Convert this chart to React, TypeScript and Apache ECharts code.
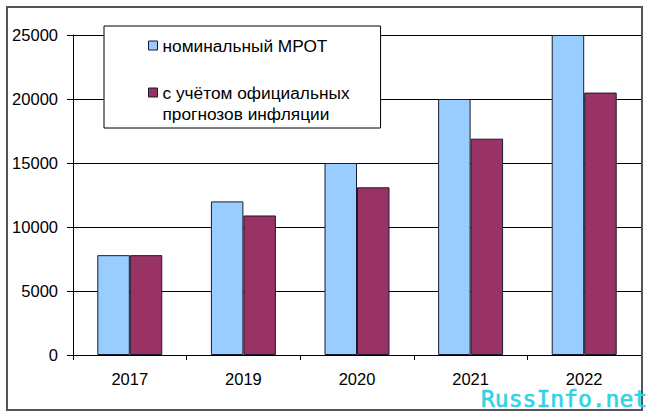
import React, { useEffect, useRef } from "react";
import * as echarts from "echarts";

const categories = ["2017", "2019", "2020", "2021", "2022"];
const nominal = [7800, 12000, 15000, 20000, 25000];
const inflationAdjusted = [7800, 10900, 13100, 16900, 20500];
const seriesNames = ["номинальный МРОТ", "с учётом официальных\nпрогнозов инфляции"];
const yTicks = { min: 0, max: 25000, interval: 5000 };
const watermark = "RussInfo.net";

const FONT = "'Liberation Sans', Arial, sans-serif";

export default function App() {
  const ref = useRef<HTMLDivElement>(null);
  useEffect(() => {
    document.body.style.margin = "0";
    const chart = echarts.init(ref.current!, null, { renderer: "svg" });
    chart.setOption({
      animation: false,
      backgroundColor: "#fff",
      textStyle: { fontFamily: FONT },
      grid: { left: 73, right: 9, top: 35, bottom: 62, containLabel: false },
      legend: {
        orient: "vertical",
        left: 104,
        top: 26,
        backgroundColor: "#fff",
        borderColor: "#000",
        borderWidth: 1,
        borderRadius: 0,
        padding: [9, 31, 4, 44],
        itemGap: 5,
        itemWidth: 9,
        itemHeight: 9,
        icon: "rect",
        selectedMode: false,
        formatter: (name: string) => (name === seriesNames[1] ? "\n" + name : name),
        textStyle: { fontFamily: FONT, fontSize: 17.3, color: "#000", lineHeight: 21 },
        data: [
          { name: seriesNames[0], itemStyle: { borderColor: "#1a1a2e", borderWidth: 1 } },
          { name: seriesNames[1], itemStyle: { borderColor: "#1a1a2e", borderWidth: 1 } },
        ],
      },
      xAxis: {
        type: "category",
        data: categories,
        axisLine: { lineStyle: { color: "#000", width: 1 } },
        axisTick: { show: true, alignWithLabel: false, length: 5, lineStyle: { color: "#000" } },
        axisLabel: { fontSize: 16.5, color: "#000", margin: 15, fontFamily: FONT },
        splitLine: { show: false },
      },
      yAxis: {
        type: "value",
        min: yTicks.min,
        max: yTicks.max,
        interval: yTicks.interval,
        axisLine: { show: true, lineStyle: { color: "#000", width: 1 } },
        axisTick: { show: true, inside: false, length: 6, lineStyle: { color: "#000" } },
        axisLabel: {
          fontSize: 16.5,
          color: "#000",
          margin: 15,
          fontFamily: FONT,
          formatter: (v: number) => String(v),
        },
        splitLine: { show: true, lineStyle: { color: "#000", width: 1 } },
      },
      series: [
        {
          name: seriesNames[0],
          type: "bar",
          data: nominal,
          barWidth: "28.6%",
          barGap: "0%",
          itemStyle: { color: "#99CCFF", borderColor: "#1a1a2e", borderWidth: 1 },
        },
        {
          name: seriesNames[1],
          type: "bar",
          data: inflationAdjusted,
          barWidth: "28.6%",
          barGap: "0%",
          itemStyle: { color: "#993366", borderColor: "#1a1a2e", borderWidth: 1 },
        },
      ],
      graphic: [
        {
          type: "rect",
          z: 100,
          silent: true,
          shape: { x: 7, y: 7, width: 635, height: 403 },
          style: { fill: "none", stroke: "#555", lineWidth: 2 },
        },
        {
          type: "text",
          z: 101,
          silent: true,
          x: 481,
          y: 399,
          style: {
            text: watermark,
            font: "23px 'DejaVu Sans Mono', monospace",
            fill: "#2fd3e8",
            stroke: "#2fd3e8",
            lineWidth: 0.6,
            verticalAlign: "middle",
            align: "left",
          },
        },
      ],
    });
    return () => chart.dispose();
  }, []);
  return <div ref={ref} style={{ width: 650, height: 417 }} />;
}
